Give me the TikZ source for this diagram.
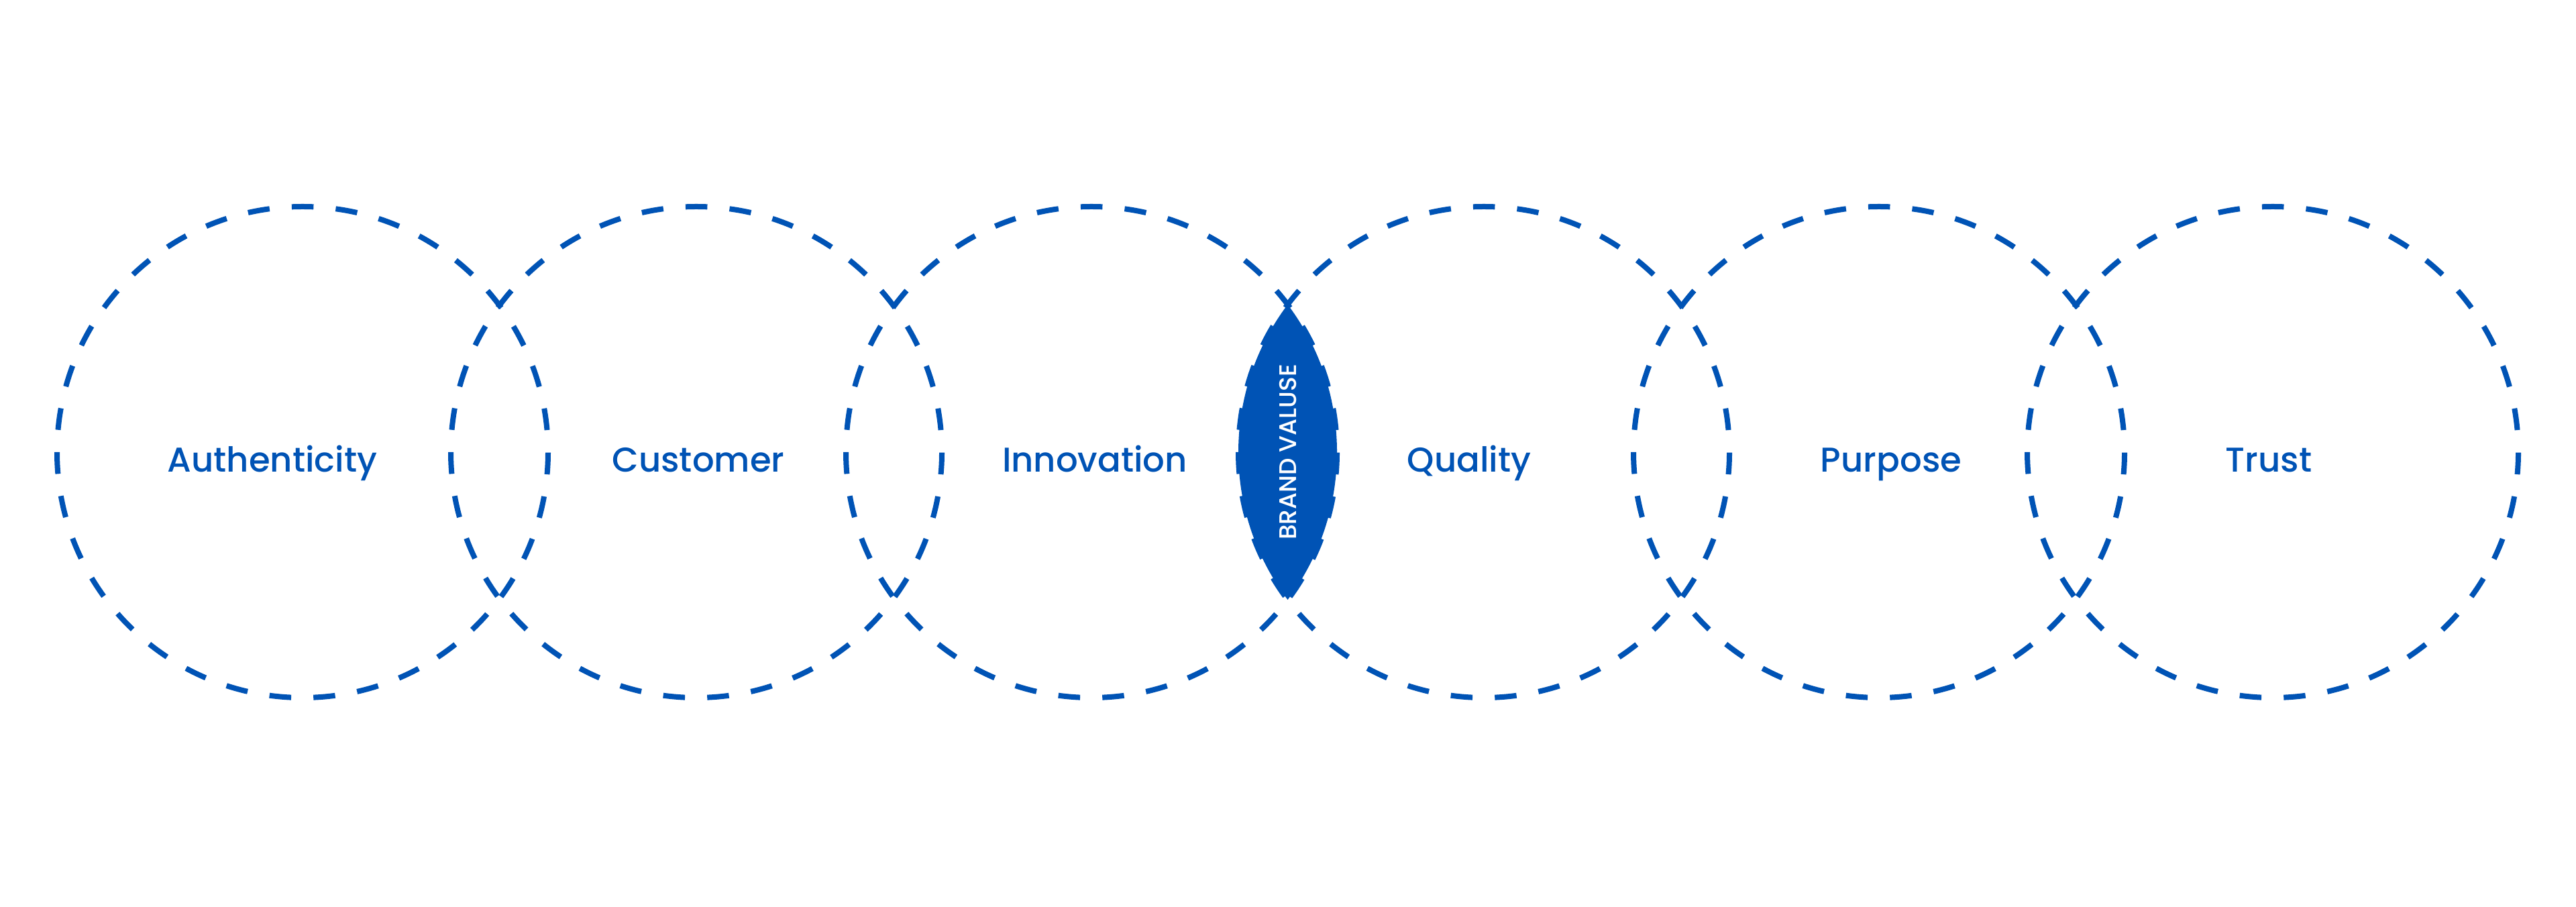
\documentclass[tikz,border=0pt]{standalone}
\usepackage{fontspec}
\setmainfont{Poppins}[UprightFont=* Medium]
\usepackage{tikz}
\usetikzlibrary{calc}
\definecolor{brandblue}{RGB}{0, 83, 181}

\begin{document}
\begin{tikzpicture}[
  ring/.style={draw=brandblue, circle, minimum size=7.32cm, inner sep=0pt, outer sep=0pt,
               line width=0.8mm, dash pattern=on 3.25mm off 3.32mm, dash phase=3.27mm},
  value/.style={font=\fontsize{14.6}{17}\selectfont, text=brandblue, anchor=base, inner sep=0pt},
  core/.style={font=\fontsize{10.2}{12}\selectfont, text=white, rotate=90, inner sep=0pt}
]
  \useasboundingbox[fill=white] (0, 0) rectangle (38.4, 13.51);

  % Rings
  \node[ring] (auth) at (4.51, 6.77) {};
  \node[ring] (cust) at (10.38, 6.77) {};
  \node[ring] (inno) at (16.27, 6.77) {};
  \node[ring] (qual) at (22.12, 6.77) {};
  \node[ring] (purp) at (28.01, 6.77) {};
  \node[ring] (trust) at (33.88, 6.77) {};

  % Brand value lens
  \begin{scope}
    \clip (inno.center) circle [radius=3.66];
    \fill[brandblue] (qual.center) circle [radius=3.66];
  \end{scope}
  \node[core] (brand) at ($(inno)!0.5!(qual)$) {BRAND VALUSE};

  % Labels
  \node[value] (authL) at ([xshift=-4.5mm, yshift=-3mm]auth) {Authenticity};
  \node[value] (custL) at ([xshift=0.3mm, yshift=-3mm]cust) {Customer};
  \node[value] (innoL) at ([xshift=0.5mm, yshift=-3mm]inno) {Innovation};
  \node[value] (qualL) at ([xshift=-2.2mm, yshift=-3mm]qual) {Quality};
  \node[value] (purpL) at ([xshift=1.8mm, yshift=-3mm]purp) {Purpose};
  \node[value] (trustL) at ([xshift=-0.6mm, yshift=-3mm]trust) {Trust};

\end{tikzpicture}
\end{document}
